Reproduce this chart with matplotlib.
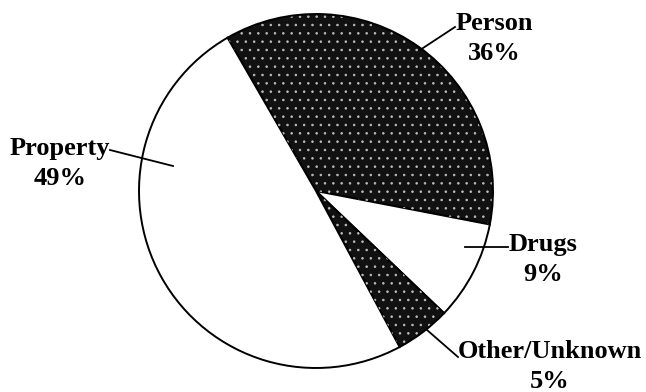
import matplotlib.pyplot as plt

# offence categories, percent of cases
labels = ['Person', 'Drugs', 'Other/Unknown', 'Property']
shares = [36, 9, 5, 49]
fills = ['#111111', 'white', '#111111', 'white']

W, H = 646, 392
fig = plt.figure(figsize=(W / 100, H / 100), dpi=100)
ax = fig.add_axes([0, 0, 1, 1])

cx, cy, r = 316, H - 191, 177

wedges, _ = ax.pie(shares, colors=fills, startangle=120, counterclock=False,
                   center=(cx, cy), radius=r, frame=True,
                   wedgeprops=dict(edgecolor='black', linewidth=1.4))

# speckled texture on the dark slices
plt.rcParams['hatch.linewidth'] = 0.6
spk, _ = ax.pie(shares, colors=['none'] * 4, startangle=120, counterclock=False,
                center=(cx, cy), radius=r - 1, frame=True,
                wedgeprops=dict(edgecolor='#bdbdbd', linewidth=0, hatch='..'))
for w, f in zip(spk, fills):
    w.set_zorder(3)
    if f == 'white':
        w.set_visible(False)

ax.set_xlim(0, W)
ax.set_ylim(0, H)
ax.set_aspect('equal')
ax.axis('off')

font = dict(family='Liberation Serif', fontweight='bold', fontsize=19,
            ha='center', va='top', linespacing=1.4)

# text labels and leader lines (pixel coords, y from top)
texts = {
    'Person': ((494, 12), [(420, 50), (455, 27)]),
    'Property': ((60, 137), [(173, 166), (110, 150)]),
    'Drugs': ((543, 233), [(465, 247), (508, 247)]),
    'Other/Unknown': ((550, 340), [(427, 330), (458, 357)]),
}
for lab, s in zip(labels, shares):
    (tx, ty), pts = texts[lab]
    ax.text(tx, H - ty, f'{lab}\n{s}%', **font)
    ax.plot([p[0] for p in pts], [H - p[1] for p in pts], color='black',
            lw=1.3, zorder=4)

fig.savefig('out.png', dpi=100, facecolor='white')
